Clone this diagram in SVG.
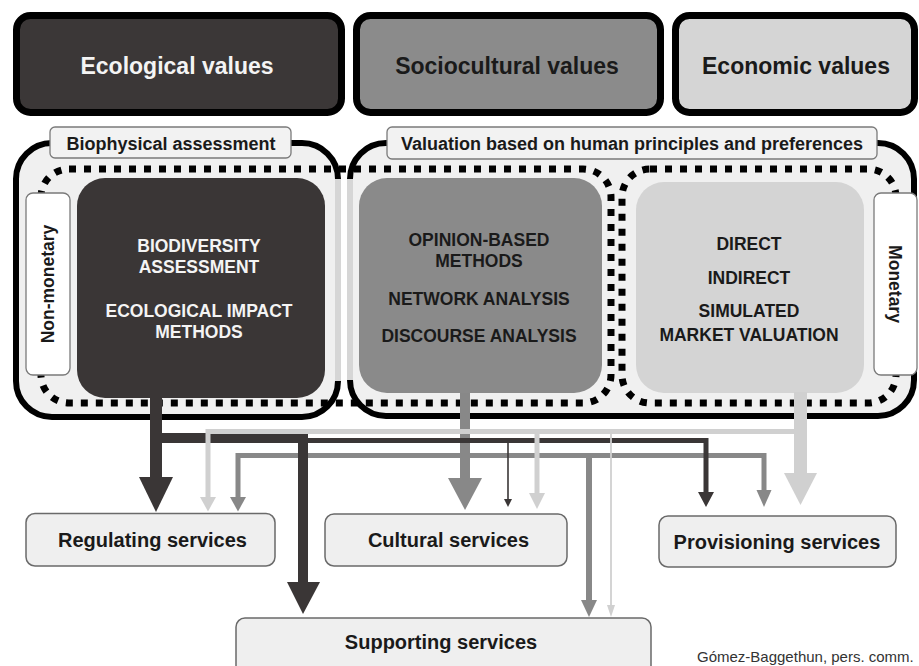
<svg xmlns="http://www.w3.org/2000/svg" width="919" height="666" viewBox="0 0 919 666">
<style>
text{font-family:"Liberation Sans",Arial,sans-serif;font-weight:bold;text-anchor:middle}
.val{stroke:#000;stroke-width:7}
.t23{font-size:23px}
.t18{font-size:18px}
.t17{font-size:17.5px}
.t20{font-size:20px}
.wt{fill:#f4f4f4}
.dk{fill:#1a1a1a}
.lab{fill:#f2f2f2;stroke:#7a7a7a;stroke-width:1.3}
.side{fill:#ffffff;stroke:#7a7a7a;stroke-width:1.3}
.svc{fill:#efefef;stroke:#6a6a6a;stroke-width:1.5}
.cont{fill:none;stroke:#000;stroke-width:6}
.inner{fill:none;stroke:#d6d6d6;stroke-width:6}
.dot{fill:none;stroke:#000;stroke-width:7;stroke-dasharray:7 8}
.ln{fill:none;stroke-linejoin:miter}
.cD{stroke:#3a3636}.fD{fill:#3a3636}
.cM{stroke:#888888}.fM{fill:#888888}
.cL{stroke:#d0d0d0}.fL{fill:#d0d0d0}
</style>
<rect width="919" height="666" fill="#ffffff"/>

<g id="ecological-values">
<rect class="val" x="16.5" y="15.5" width="325" height="97" rx="14" fill="#3b3737"/>
<text class="t23 wt" x="177" y="73.5">Ecological values</text>
</g>
<g id="sociocultural-values">
<rect class="val" x="356.5" y="15.5" width="304" height="97" rx="14" fill="#8b8b8b"/>
<text class="t23 dk" x="507" y="73.5">Sociocultural values</text>
</g>
<g id="economic-values">
<rect class="val" x="675.5" y="15.5" width="239" height="97" rx="14" fill="#d5d5d5"/>
<text class="t23 dk" x="796" y="73.5">Economic values</text>
</g>

<g id="biophysical-container">
<rect x="16" y="143" width="322" height="274" rx="36" fill="#f0f0f0"/>
<path class="cont" d="M338 179 A36 36 0 0 0 302 143 L52 143 A36 36 0 0 0 16 179 L16 381 A36 36 0 0 0 52 417 L302 417 A36 36 0 0 0 338 381"/>
<path class="inner" d="M338 179 L338 381"/>
</g>
<g id="human-valuation-container">
<rect x="350" y="143" width="564" height="273" rx="36" fill="#f0f0f0"/>
<path class="cont" d="M350 179 A36 36 0 0 1 386 143 L878 143 A36 36 0 0 1 914 179 L914 380 A36 36 0 0 1 878 416 L386 416 A36 36 0 0 1 350 380"/>
<path class="inner" d="M350 179 L350 380"/>
</g>

<g id="non-monetary-group">
<rect class="dot" x="41" y="169" width="570" height="234" rx="28"/>
</g>
<g id="monetary-group">
<rect class="dot" x="622" y="169" width="274" height="234" rx="28"/>
</g>

<g id="biophysical-label">
<rect class="lab" x="50" y="127" width="241" height="31" rx="5"/>
<text class="t18 dk" x="171" y="150">Biophysical assessment</text>
</g>
<g id="valuation-label">
<rect class="lab" x="387" y="127" width="490" height="32" rx="5"/>
<text class="t18 dk" x="632" y="150">Valuation based on human principles and preferences</text>
</g>

<g id="non-monetary-label">
<rect class="side" x="26" y="193" width="44" height="182" rx="7"/>
<text class="t17 dk" transform="translate(54 284) rotate(-90)" x="0" y="0">Non-monetary</text>
</g>
<g id="monetary-label">
<rect class="side" x="874" y="193" width="43" height="182" rx="7"/>
<text class="t17 dk" transform="translate(889 284) rotate(90)" x="0" y="0">Monetary</text>
</g>

<g id="ecological-methods">
<rect x="77" y="178" width="248" height="220" rx="28" fill="#3a3636"/>
<text class="t17 wt" x="199" y="251.5">BIODIVERSITY</text>
<text class="t17 wt" x="199" y="273">ASSESSMENT</text>
<text class="t17 wt" x="199" y="316.5">ECOLOGICAL IMPACT</text>
<text class="t17 wt" x="199" y="338">METHODS</text>
</g>
<g id="sociocultural-methods">
<rect x="359" y="178" width="243" height="215" rx="28" fill="#8a8a8a"/>
<text class="t17 dk" x="479" y="246">OPINION-BASED</text>
<text class="t17 dk" x="479" y="267">METHODS</text>
<text class="t17 dk" x="479" y="305">NETWORK ANALYSIS</text>
<text class="t17 dk" x="479" y="342">DISCOURSE ANALYSIS</text>
</g>
<g id="economic-methods">
<rect x="636" y="182" width="228" height="211" rx="28" fill="#d4d4d4"/>
<text class="t17 dk" x="749" y="250">DIRECT</text>
<text class="t17 dk" x="749" y="284">INDIRECT</text>
<text class="t17 dk" x="749" y="317">SIMULATED</text>
<text class="t17 dk" x="749" y="341">MARKET VALUATION</text>
</g>

<g id="regulating-services">
<rect class="svc" x="26" y="513.5" width="249" height="52.5" rx="9"/>
<text class="t20 dk" x="152.5" y="547">Regulating services</text>
</g>
<g id="cultural-services">
<rect class="svc" x="325" y="514" width="242" height="52" rx="9"/>
<text class="t20 dk" x="448.5" y="547">Cultural services</text>
</g>
<g id="provisioning-services">
<rect class="svc" x="659" y="516" width="237" height="51" rx="9"/>
<text class="t20 dk" x="777" y="549">Provisioning services</text>
</g>
<g id="supporting-services">
<rect class="svc" x="236" y="618" width="415" height="60" rx="9"/>
<text class="t20 dk" x="441" y="649">Supporting services</text>
</g>

<g id="connectors">
<g id="sociocultural-arrows">
<path class="ln cM" d="M465 393 V480" stroke-width="10"/>
<polygon class="fM" points="448,478 482,478 465,510"/>
<path class="ln cM" d="M238 499 V455.5 H764 V492" stroke-width="5"/>
<polygon class="fM" points="230,497 246,497 238,511.5"/>
<polygon class="fM" points="756.5,490 771.5,490 764,507"/>
<path class="ln cM" d="M589 455.5 V602" stroke-width="6"/>
<polygon class="fM" points="581,600 597,600 589,617"/>
</g>
<g id="ecological-arrows">
<path class="ln cD" d="M156 398 V480" stroke-width="12"/>
<polygon class="fD" points="139,477 173,477 156,512"/>
<path class="ln cD" d="M156 438 H303 V585" stroke-width="10"/>
<polygon class="fD" points="287,582 320,582 303,614"/>
<path class="ln cD" d="M303 440.5 H706 V494" stroke-width="5"/>
<polygon class="fD" points="698,492 714,492 706,507"/>
<path class="ln cD" d="M508 440.5 V500" stroke-width="1.6"/>
<polygon class="fD" points="504,499 512,499 508,507"/>
</g>
<g id="economic-arrows">
<path class="ln cL" d="M800.5 392 V476" stroke-width="13"/>
<polygon class="fL" points="784,473 817,473 800.5,505"/>
<path class="ln cL" d="M208 499 V431.5 H800" stroke-width="5"/>
<polygon class="fL" points="200,497 216,497 208,511.5"/>
<path class="ln cL" d="M537 431.5 V495" stroke-width="5"/>
<polygon class="fL" points="529,493 545,493 537,509"/>
<path class="ln cL" d="M611 431.5 V607" stroke-width="1.8"/>
<polygon class="fL" points="607,605 615,605 611,617"/>
</g>
</g>

<text x="697" y="662" style="font-weight:normal;text-anchor:start;font-size:15px;fill:#333333">Gómez-Baggethun, pers. comm.</text>
</svg>
